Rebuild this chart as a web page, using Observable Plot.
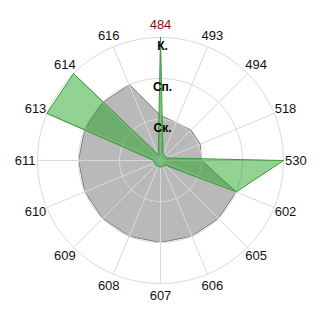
<!DOCTYPE html>
<html><head><meta charset="utf-8">
<script src="https://cdn.jsdelivr.net/npm/d3@7"></script>
<script src="https://cdn.jsdelivr.net/npm/@observablehq/plot@0.6"></script>
<style>html,body{margin:0;padding:0;background:#fff}#chart{width:320px;height:320px}</style>
</head><body><div id="chart"></div>
<script>
const categories = ["484","493","494","518","530","602","605","606","607","608","609","610","611","613","614","616"];
const grayValues = [1.1, 1.0, 1.05, 1.05, 1.0, 2.0, 2.0, 2.0, 2.0, 2.0, 2.0, 2.0, 2.0, 2.0, 2.0, 2.0];
const greenValues = [3.0, 0.16, 0.16, 0.16, 3.0, 2.0, 0.16, 0.16, 0.16, 0.16, 0.16, 0.16, 0.16, 3.0, 3.0, 0.16];
const levels = [1, 2, 3];
const levelLabels = ["Ск.", "Сп.", "К."];
const highlighted = "484";

const n = categories.length;
const ang = i => i * 2 * Math.PI / n;
const px = (r, i) => r * Math.sin(ang(i));
const py = (r, i) => r * Math.cos(ang(i));
const maxLevel = d3.max(levels);
const half = 160 / 41;

const polyRows = (values, name) => values.map((v, i) => ({series: name, cat: categories[i], x: px(v, i), y: py(v, i)}));
const grayRows = polyRows(grayValues, "gray");
const greenRows = polyRows(greenValues, "green");

const circleRows = levels.flatMap(l => d3.range(180).map(k => {
  const a = k * 2 * Math.PI / 180;
  return {level: l, x: l * Math.sin(a), y: l * Math.cos(a)};
}));

const font = "Liberation Sans, Arial, sans-serif";

const chart = Plot.plot({
  width: 320, height: 320, margin: 0,
  x: {domain: [-half, half], axis: null},
  y: {domain: [-half, half], axis: null},
  color: {type: "identity"},
  style: {background: "#fff", fontFamily: font},
  marks: [
    Plot.line(grayRows, {x: "x", y: "y", curve: "linear-closed", fill: "#b9b9b9", stroke: "#7d7d7d", strokeWidth: 1}),
    Plot.line(circleRows, {x: "x", y: "y", z: "level", curve: "linear-closed", stroke: "#dadada", strokeWidth: 1, fill: "none"}),
    Plot.link(categories, {x1: 0, y1: 0, x2: (d, i) => px(maxLevel, i), y2: (d, i) => py(maxLevel, i), stroke: "#dadada", strokeWidth: 1}),
    Plot.line(greenRows, {x: "x", y: "y", curve: "linear-closed", fill: "#18a018", fillOpacity: 0.47, stroke: "#3a9a3a", strokeWidth: 1}),
    Plot.text(categories, {x: (d, i) => px(3.3, i), y: (d, i) => py(3.3, i), text: d => d,
      fill: d => d === highlighted ? "#8b1010" : "#111", fontSize: 13, fontFamily: font}),
    Plot.text(levels, {x: 0, y: d => d - 0.205, text: (d, i) => levelLabels[i], dx: 2,
      fill: "#000", fontWeight: "bold", fontSize: 12, fontFamily: font})
  ]
});
document.getElementById("chart").appendChild(chart);
</script>
</body></html>
